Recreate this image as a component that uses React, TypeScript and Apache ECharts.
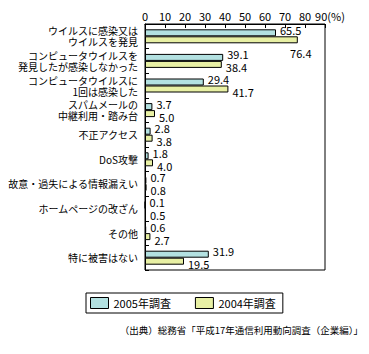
import React, { useEffect, useRef } from "react";
import * as echarts from "echarts";

const categories = [
  "ウイルスに感染又は\nウイルスを発見",
  "コンピュータウイルスを\n発見したが感染しなかった",
  "コンピュータウイルスに\n1回は感染した",
  "スパムメールの\n中継利用・踏み台",
  "不正アクセス",
  "DoS攻撃",
  "故意・過失による情報漏えい",
  "ホームページの改ざん",
  "その他",
  "特に被害はない",
];
const series2005 = [65.5, 39.1, 29.4, 3.7, 2.8, 1.8, 0.7, 0.1, 0.6, 31.9];
const series2004 = [76.4, 38.4, 41.7, 5.0, 3.8, 4.0, 0.8, 0.5, 2.7, 19.5];
const seriesNames = ["2005年調査", "2004年調査"];
const xTicks = [0, 10, 20, 30, 40, 50, 60, 70, 80, 90];
const sourceText = "（出典）総務省「平成17年通信利用動向調査（企業編）」";

const FONT = "'Noto Sans CJK JP', 'Noto Sans', sans-serif";
const TEAL = "#b3e1e1";
const YELLOW = "#e8f0a4";

export default function App() {
  const ref = useRef<HTMLDivElement>(null);
  useEffect(() => {
    if (!ref.current) return;
    const chart = echarts.init(ref.current, undefined, { renderer: "svg" });
    const lblStyle = {
      show: true,
      position: "right" as const,
      distance: 4,
      fontSize: 11,
      lineHeight: 11,
      color: "#000",
      fontFamily: FONT,
      formatter: (p: any) => Number(p.value).toFixed(1),
    };
    chart.setOption({
      animation: false,
      backgroundColor: "#fff",
      textStyle: { fontFamily: FONT, color: "#000" },
      grid: {
        left: 145,
        top: 24,
        width: 180,
        height: 246,
        containLabel: false,
        outerBoundsMode: "none",
        show: true,
        borderColor: "#000",
        borderWidth: 1,
        backgroundColor: "transparent",
      },
      xAxis: {
        type: "value",
        position: "top",
        min: xTicks[0],
        max: xTicks[xTicks.length - 1],
        interval: 10,
        axisLine: { show: true, lineStyle: { color: "#000", width: 1 } },
        axisTick: { show: true, inside: true, length: 4, lineStyle: { color: "#000" } },
        splitLine: { show: false },
        axisLabel: {
          margin: 3,
          fontSize: 11,
          color: "#000",
          fontFamily: FONT,
          formatter: (v: number) => (v === 90 ? "{p|90(%)}" : String(v)),
          rich: { p: { fontSize: 11, color: "#000", fontFamily: FONT, padding: [0, 0, 0, 10] } },
        },
      },
      yAxis: {
        type: "category",
        inverse: true,
        data: categories,
        axisLine: { show: true, lineStyle: { color: "#000", width: 1 } },
        axisTick: { show: true, inside: true, length: 4, lineStyle: { color: "#000" } },
        axisLabel: {
          interval: 0,
          hideOverlap: false,
          margin: 7,
          fontSize: 10,
          lineHeight: 11,
          color: "#000",
          fontFamily: FONT,
          padding: [2, 0, 0, 0],
        },
      },
      legend: {
        data: seriesNames,
        left: 86,
        top: 293,
        orient: "horizontal",
        icon: "rect",
        itemWidth: 18,
        itemHeight: 11,
        itemGap: 24,
        borderColor: "#000",
        borderWidth: 1,
        padding: [4, 7, 4, 4],
        textStyle: { fontSize: 11, color: "#000", fontFamily: FONT },
        itemStyle: { borderColor: "#000", borderWidth: 1 },
      },
      graphic: [
        {
          type: "text",
          right: 6,
          top: 325,
          style: {
            text: sourceText,
            fontSize: 9.5,
            fill: "#000",
            fontFamily: FONT,
          },
        },
      ],
      series: [
        {
          name: seriesNames[0],
          type: "bar",
          data: series2005,
          barWidth: 7,
          barGap: "0%",
          itemStyle: { color: TEAL, borderColor: "#000", borderWidth: 1 },
          label: { ...lblStyle, offset: [0, -3] },
        },
        {
          name: seriesNames[1],
          type: "bar",
          data: series2004.map((v, i) =>
            i === 0
              ? {
                  value: v,
                  label: {
                    position: ["100%", "100%"],
                    align: "center",
                    verticalAlign: "top",
                    offset: [3, 4],
                  },
                }
              : v
          ),
          barWidth: 7,
          barGap: "0%",
          itemStyle: { color: YELLOW, borderColor: "#000", borderWidth: 1 },
          label: { ...lblStyle, offset: [0, 3] },
        },
      ],
    });
    return () => chart.dispose();
  }, []);
  return (
    <div
      ref={ref}
      style={{ position: "fixed", left: 0, top: 0, width: 369, height: 354 }}
    />
  );
}
